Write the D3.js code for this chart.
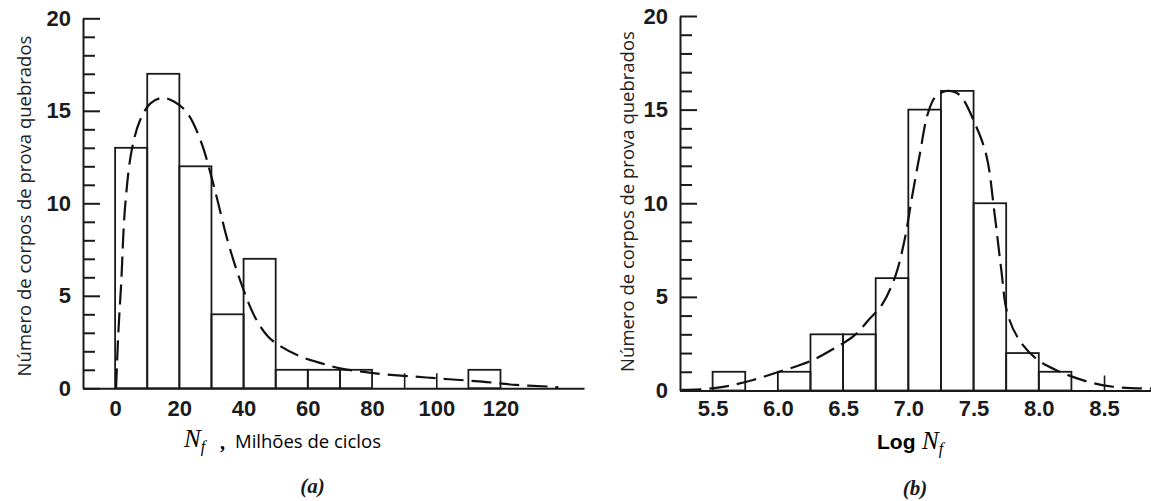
<!DOCTYPE html>
<html>
<head>
<meta charset="utf-8">
<script src="https://cdn.jsdelivr.net/npm/d3@7"></script>
<style>
    body { margin: 0; background: #fff; }
    svg { display: block; }
    .tick text { font-family: "Liberation Sans", Arial, sans-serif; font-size: 22px; font-weight: bold; fill: #1b1b1b; }
    .axis path, .axis line { stroke: #1a1a1a; stroke-width: 2; }
</style>
</head>
<body>
<div id="chart"></div>
<script>
// 1: DATA
// (a) Nf in millions of cycles, bins of width 10
const binEdgesA = [0, 10, 20, 30, 40, 50, 60, 70, 80, 90, 100, 110, 120];
const countsA = [13, 17, 12, 4, 7, 1, 1, 1, 0, 0, 0, 1];
const fitXA = [0.3, 1.0, 1.9, 3.1, 5.2, 7.8, 11, 14.6, 18.3, 22.4, 26.6, 30.8, 35, 39.2, 43.4, 47.6,
    51.7, 58, 64.3, 70, 76.8, 83, 93.5, 104, 114.4, 124.9, 135.3, 138];
const fitYA = [0, 3.0, 5.7, 9.8, 12.9, 14.5, 15.4, 15.7, 15.5, 14.9, 13.4, 10.9, 8.0, 5.7, 3.9, 2.8,
    2.25, 1.7, 1.35, 1.08, 0.9, 0.77, 0.63, 0.49, 0.36, 0.18, 0.09, 0.05];
const xTicksA = [0, 20, 40, 60, 80, 100, 120];
const marksA = [90, 100];

// (b) Log Nf, bins of width 0.25
const binEdgesB = [5.5, 5.75, 6.0, 6.25, 6.5, 6.75, 7.0, 7.25, 7.5, 7.75, 8.0, 8.25];
const countsB = [1, 0, 1, 3, 3, 6, 15, 16, 10, 2, 1];
const fitXB = [5.26, 5.40, 5.54, 5.66, 5.81, 6.01, 6.17, 6.29, 6.42, 6.58, 6.70, 6.80, 6.90, 6.97,
    7.03, 7.09, 7.15, 7.21, 7.30, 7.39, 7.52, 7.60, 7.66, 7.71, 7.76, 7.85, 7.98, 8.13, 8.36, 8.57, 8.86];
const fitYB = [0.03, 0.06, 0.15, 0.3, 0.56, 1.0, 1.36, 1.7, 2.2, 2.9, 3.8, 4.6, 6.1, 8.0,
    10.4, 12.7, 14.8, 15.7, 16.0, 15.8, 14.1, 12.5, 9.5, 6.6, 4.1, 2.7, 1.7, 1.1, 0.5, 0.2, 0.1];
const xTicksB = ["5.5", "6.0", "6.5", "7.0", "7.5", "8.0", "8.5"];
const marksB = [8.5];

const yMajor = [0, 5, 10, 15, 20];
const yMinor = d3.range(1, 20).filter(v => v % 5 !== 0);
const yLabel = "Número de corpos de prova quebrados";

// 2: SVG
const svg = d3.select("#chart")
    .append("svg")
    .attr("width", 1151)
    .attr("height", 501);

// 3: ONE PANEL
function drawPanel(p) {
    const x = d3.scaleLinear().domain(p.xDomain).range([p.left, p.right]);
    const y = d3.scaleLinear().domain([0, 20]).range([p.bottom, p.top]);

    // bars
    const bins = p.counts.map((c, i) => ({ x0: p.edges[i], x1: p.edges[i + 1], n: c }))
        .filter(d => d.n > 0);
    svg.append("g").selectAll("rect")
        .data(bins)
        .enter()
        .append("rect")
        .attr("x", d => x(d.x0))
        .attr("y", d => y(d.n))
        .attr("width", d => x(d.x1) - x(d.x0))
        .attr("height", d => y(0) - y(d.n))
        .style("fill", "none")
        .style("stroke", "#1a1a1a")
        .style("stroke-width", 1.8);

    // fitted curve
    const pts = p.fitX.map((v, i) => [v, p.fitY[i]]);
    svg.append("path")
        .datum(pts)
        .attr("d", d3.line().x(d => x(d[0])).y(d => y(d[1])).curve(d3.curveCatmullRom.alpha(0.5)))
        .style("fill", "none")
        .style("stroke", "#111")
        .style("stroke-width", 2.2)
        .style("stroke-dasharray", "20,8");

    // y axis: major + minor ticks pointing inward
    svg.append("g")
        .attr("class", "axis")
        .attr("transform", `translate(${p.left},0)`)
        .call(d3.axisLeft(y).tickValues(yMajor).tickSizeInner(-17).tickSizeOuter(0).tickPadding(12));
    const minor = svg.append("g")
        .attr("class", "axis")
        .attr("transform", `translate(${p.left},0)`)
        .call(d3.axisLeft(y).tickValues(yMinor).tickSizeInner(-12).tickSizeOuter(0).tickFormat(""));
    minor.select(".domain").remove();

    // x axis
    svg.append("g")
        .attr("class", "axis")
        .attr("transform", `translate(0,${p.bottom})`)
        .call(d3.axisBottom(x).tickValues(p.xTicks.map(Number)).tickSize(0).tickPadding(p.xPad)
            .tickFormat((d, i) => p.xTicks[i]));

    // small stubs standing on the baseline
    const stubs = svg.append("g")
        .attr("class", "axis")
        .attr("transform", `translate(0,${p.bottom})`)
        .call(d3.axisTop(x).tickValues(p.marks).tickSize(15).tickFormat(""));
    stubs.select(".domain").remove();
    stubs.selectAll("line").style("stroke-width", 1.6);

    // y label
    svg.append("text")
        .attr("transform", `translate(${p.yLabelX},${p.yLabelY}) rotate(-90)`)
        .attr("text-anchor", "middle")
        .attr("dy", "0.35em")
        .style("font-family", "'Open Sans', 'Noto Sans', sans-serif")
        .style("font-size", "18.5px")
        .style("fill", "#222")
        .text(yLabel);
}

drawPanel({
    edges: binEdgesA, counts: countsA, fitX: fitXA, fitY: fitYA,
    xTicks: xTicksA.map(String), marks: marksA,
    xDomain: [-10, 146], left: 83, right: 584, top: 18.3, bottom: 388.3, xPad: 12,
    yLabelX: 25, yLabelY: 206
});

drawPanel({
    edges: binEdgesB, counts: countsB, fitX: fitXB, fitY: fitYB,
    xTicks: xTicksB, marks: marksB,
    xDomain: [5.25, 8.86], left: 680, right: 1151, top: 16, bottom: 390.5, xPad: 10,
    yLabelX: 628, yLabelY: 201.5
});

// 4: X TITLES AND PANEL LETTERS
const serif = "'Liberation Serif', 'DejaVu Serif', serif";
const sans = "'Open Sans', 'Noto Sans', sans-serif";

const titleA = svg.append("text").attr("y", 447);
titleA.append("tspan").attr("x", 184).style("font-family", serif).style("font-style", "italic")
    .style("font-size", "25px").text("N");
titleA.append("tspan").attr("dy", 5).style("font-family", serif).style("font-style", "italic")
    .style("font-size", "16px").text("f");
titleA.append("tspan").attr("x", 220).attr("dy", -3).style("font-family", serif).style("font-weight", "bold")
    .style("font-size", "20px").text(",");
titleA.append("tspan").attr("x", 235).attr("dy", -1).style("font-family", sans)
    .style("font-size", "18.5px").text("Milhões de ciclos");

const titleB = svg.append("text").attr("y", 449);
titleB.append("tspan").attr("x", 877).style("font-family", "'Liberation Sans', Arial, sans-serif")
    .style("font-weight", "bold").style("font-size", "21px").text("Log");
titleB.append("tspan").attr("x", 922).style("font-family", serif).style("font-style", "italic")
    .style("font-size", "25px").text("N");
titleB.append("tspan").attr("dy", 5).style("font-family", serif).style("font-style", "italic")
    .style("font-size", "16px").text("f");

svg.selectAll(".panel-letter")
    .data([{ t: "(a)", x: 312.5, y: 493 }, { t: "(b)", x: 915, y: 495 }])
    .enter()
    .append("text")
    .attr("class", "panel-letter")
    .attr("x", d => d.x)
    .attr("y", d => d.y)
    .attr("text-anchor", "middle")
    .style("font-family", serif)
    .style("font-style", "italic")
    .style("font-weight", "bold")
    .style("font-size", "21px")
    .style("fill", "#1a1a1a")
    .text(d => d.t);
</script>
</body>
</html>
